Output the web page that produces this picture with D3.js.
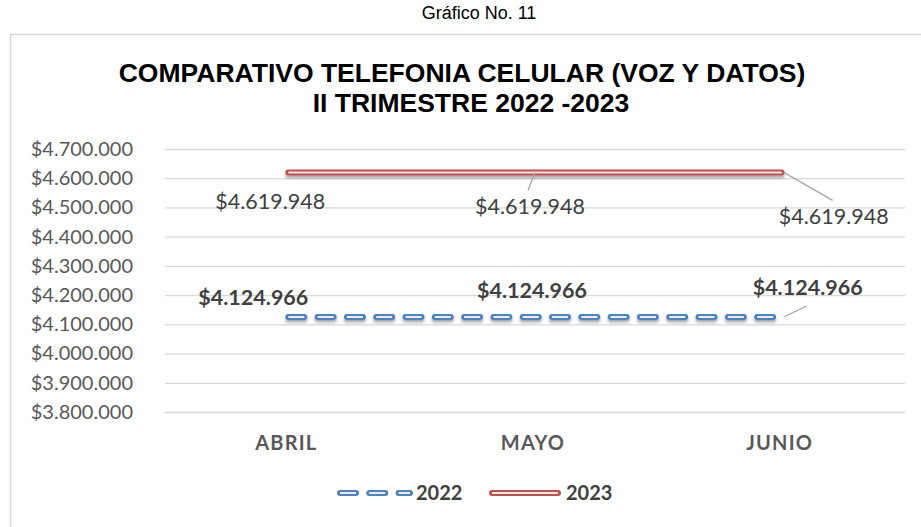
<!DOCTYPE html>
<html>
<head>
<meta charset="utf-8">
<script src="https://cdn.jsdelivr.net/npm/d3@7"></script>
<style>
  html, body { margin: 0; padding: 0; background: #fff; }
  svg { display: block; }
</style>
</head>
<body>
<svg id="chart" width="921" height="527"></svg>
<script>
// Comparativo telefonía celular, II trimestre 2022 vs 2023
const months = ["ABRIL", "MAYO", "JUNIO"];
const values2022 = [4124966, 4124966, 4124966];
const values2023 = [4619948, 4619948, 4619948];
const yTicks = [3800000, 3900000, 4000000, 4100000, 4200000, 4300000, 4400000, 4500000, 4600000, 4700000];
const seriesNames = ["2022", "2023"];

const svg = d3.select("#chart");
const W = 921, H = 527;
const plot = { left: 165, right: 905, top: 149, bottom: 412 };

const fmt = v => "$" + d3.format(",")(v).replace(/,/g, ".");

const x = d3.scaleBand().domain(months).range([plot.left, plot.right]);
const cx = m => x(m) + x.bandwidth() / 2;
const y = d3.scaleLinear().domain([3800000, 4700000]).range([plot.bottom, plot.top]);

// soft shadow under the series lines (user-space region so flat paths keep it)
const defs = svg.append("defs");
const sh = defs.append("filter").attr("id", "shadow").attr("filterUnits", "userSpaceOnUse")
  .attr("x", 0).attr("y", 0).attr("width", W).attr("height", H);
sh.append("feDropShadow").attr("dx", 0).attr("dy", 2.5).attr("stdDeviation", 1.6)
  .attr("flood-color", "#000").attr("flood-opacity", 0.35);

// page caption
svg.append("text").attr("x", 479).attr("y", 19).attr("text-anchor", "middle")
  .style("font-family", "'Liberation Sans', Arial, sans-serif")
  .style("font-size", "18px").attr("fill", "#000").text("Gráfico No. 11");

// chart frame
svg.append("path").attr("d", `M10.5,${H} V34.5 H${W}`)
  .attr("fill", "none").attr("stroke", "#d9d9d9").attr("stroke-width", 1.5);

// title
const title = svg.append("text").attr("text-anchor", "middle")
  .style("font-family", "'Liberation Sans', Arial, sans-serif")
  .style("font-weight", "bold").style("font-size", "26.5px").attr("fill", "#000");
title.append("tspan").attr("x", 462).attr("y", 82).text("COMPARATIVO TELEFONIA CELULAR (VOZ Y DATOS)");
title.append("tspan").attr("x", 471).attr("y", 112).text("II TRIMESTRE 2022 -2023");

// y axis: gridlines and labels
const yAxis = d3.axisLeft(y).tickValues(yTicks).tickFormat(fmt)
  .tickSize(-(plot.right - plot.left)).tickPadding(32);
const gy = svg.append("g").attr("transform", `translate(${plot.left},0)`).call(yAxis);
gy.select(".domain").remove();
gy.selectAll(".tick line").attr("stroke", "#d9d9d9").attr("stroke-width", 1.3);
gy.selectAll(".tick text").attr("fill", "#595959")
  .style("font-family", "Lato, 'Open Sans', sans-serif").style("font-size", "20px");

// x axis labels
const xAxis = d3.axisBottom(x).tickSize(0).tickPadding(24);
const gx = svg.append("g").attr("transform", `translate(-2,${plot.bottom})`).call(xAxis);
gx.select(".domain").remove();
gx.selectAll(".tick text").attr("fill", "#595959")
  .style("font-family", "Lato, 'Open Sans', sans-serif").style("font-weight", "bold")
  .style("font-size", "20px").style("letter-spacing", "1.2px");

const line = d3.line().x((d, i) => cx(months[i])).y(d => y(d));

// 2022: dashed double line (blue)
svg.append("path").datum(values2022).attr("d", line).attr("fill", "none")
  .attr("stroke", "#4f81bd").attr("stroke-width", 6).attr("stroke-linecap", "round")
  .attr("stroke-dasharray", "16 13.3").attr("filter", "url(#shadow)");
svg.append("path").datum(values2022).attr("d", line).attr("fill", "none")
  .attr("stroke", "#e4ecf6").attr("stroke-width", 2)
  .attr("stroke-dasharray", "16 13.3");

// 2023: solid double line (red)
svg.append("path").datum(values2023).attr("d", line).attr("fill", "none")
  .attr("stroke", "#c0504d").attr("stroke-width", 6).attr("stroke-linecap", "round")
  .attr("filter", "url(#shadow)");
svg.append("path").datum(values2023).attr("d", line).attr("fill", "none")
  .attr("stroke", "#f4e4e3").attr("stroke-width", 2);

// data labels (offsets from each point)
const off2023 = [[-18, 37], [-5, 42], [52, 52]];
const off2022 = [[-35, -12], [-3, -19], [26, -22]];

const lab = svg.append("g").style("font-family", "Lato, 'Open Sans', sans-serif").style("font-size", "21.5px");

// leader lines
[[1, values2023, off2023, -24], [2, values2023, off2023, -24], [2, values2022, off2022, 11]].forEach(([i, vals, off, dy]) => {
  const px = cx(months[i]), py = y(vals[i]);
  lab.append("line")
    .attr("x1", px + (i === 2 ? 2 : 0)).attr("y1", py)
    .attr("x2", px + off[i][0] - (i === 1 ? 2 : 1)).attr("y2", py + off[i][1] + dy)
    .attr("stroke", "#a6a6a6").attr("stroke-width", 1.3);
});

values2023.forEach((v, i) => {
  lab.append("text").attr("x", cx(months[i]) + off2023[i][0]).attr("y", y(v) + off2023[i][1])
    .attr("text-anchor", "middle").attr("fill", "#404040").text(fmt(v));
});
values2022.forEach((v, i) => {
  lab.append("text").attr("x", cx(months[i]) + off2022[i][0]).attr("y", y(v) + off2022[i][1])
    .attr("text-anchor", "middle").attr("fill", "#404040").style("font-weight", "bold").text(fmt(v));
});

// legend
const leg = svg.append("g");
const legY = 493;
leg.append("line").attr("x1", 340).attr("x2", 410).attr("y1", legY).attr("y2", legY)
  .attr("stroke", "#4f81bd").attr("stroke-width", 6).attr("stroke-linecap", "round").attr("stroke-dasharray", "16 13.3");
leg.append("line").attr("x1", 340).attr("x2", 410).attr("y1", legY).attr("y2", legY)
  .attr("stroke", "#e4ecf6").attr("stroke-width", 2).attr("stroke-dasharray", "16 13.3");
leg.append("line").attr("x1", 492).attr("x2", 558).attr("y1", legY).attr("y2", legY)
  .attr("stroke", "#c0504d").attr("stroke-width", 6).attr("stroke-linecap", "round");
leg.append("line").attr("x1", 492).attr("x2", 558).attr("y1", legY).attr("y2", legY)
  .attr("stroke", "#f4e4e3").attr("stroke-width", 2);
leg.selectAll("text.lg").data(seriesNames).join("text").attr("class", "lg")
  .attr("x", (d, i) => i === 0 ? 416 : 566).attr("y", legY + 7)
  .attr("fill", "#404040").style("font-family", "Lato, 'Open Sans', sans-serif")
  .style("font-weight", "bold").style("font-size", "20px").text(d => d);
</script>
</body>
</html>
